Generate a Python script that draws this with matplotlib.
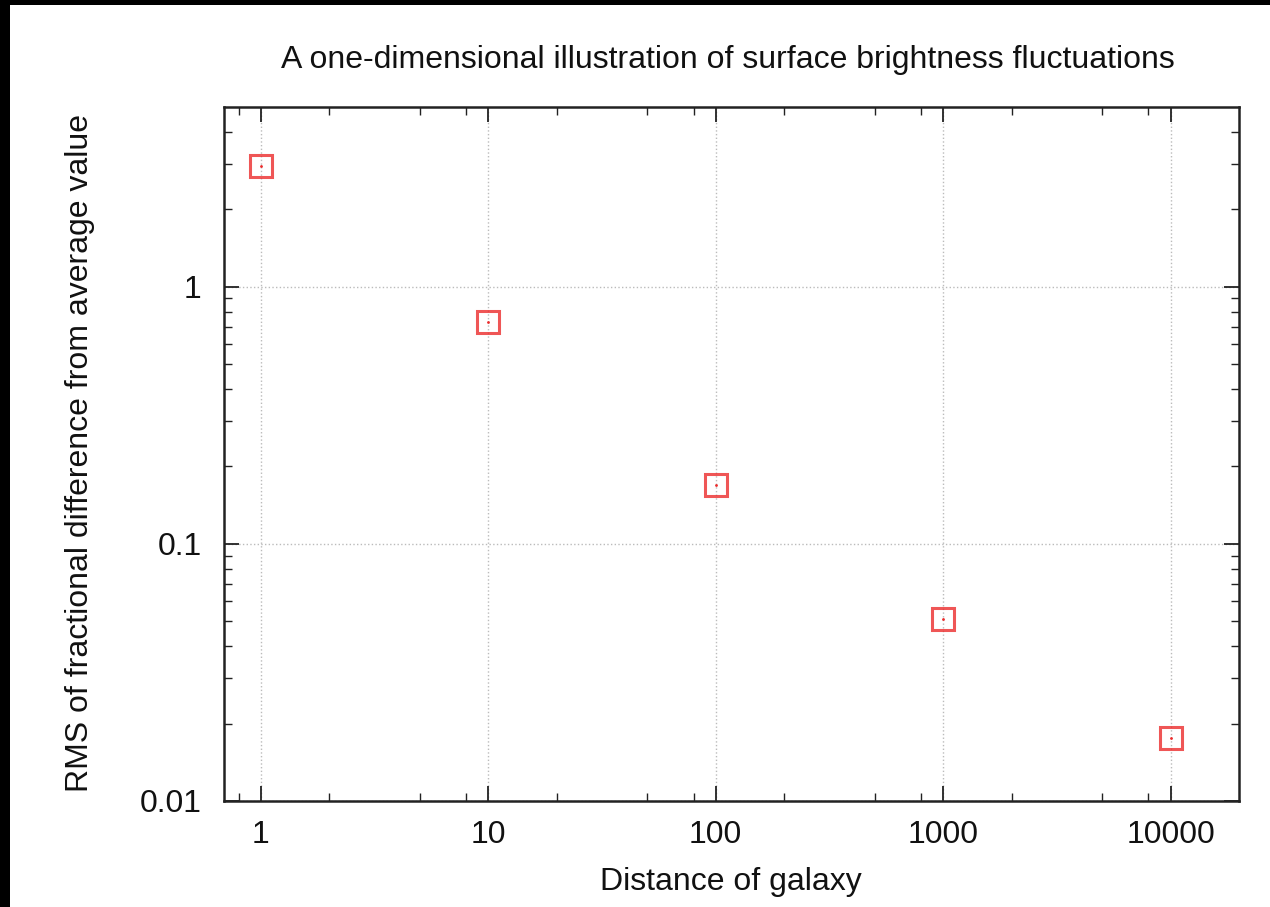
import matplotlib
matplotlib.use("Agg")
import matplotlib.pyplot as plt
import numpy as np
from matplotlib.patches import Rectangle

# data
distance = [1, 10, 100, 1000, 10000]
rms = [2.95, 0.73, 0.17, 0.051, 0.0176]

xticks = [1, 10, 100, 1000, 10000]
xticklabels = ["1", "10", "100", "1000", "10000"]
yticks = [0.01, 0.1, 1]
yticklabels = ["0.01", "0.1", "1"]

plt.rcParams['font.family'] = ['Liberation Sans', 'DejaVu Sans']
plt.rcParams['font.size'] = 23

fig = plt.figure(figsize=(12.7, 9.07), dpi=100, facecolor='black')
# white page with the dark frame on left/top
fig.patches.append(Rectangle((10 / 1270, 0), 1, 1 - 5 / 907, transform=fig.transFigure,
                             facecolor='white', edgecolor='none', zorder=-10))

ax = fig.add_axes([224 / 1270, 1 - 801 / 907, (1239 - 224) / 1270, (801 - 107) / 907])
ax.set_facecolor('white')

red = '#ec2c2c'
ax.plot(distance, rms, linestyle='none', marker='s', markersize=16, markerfacecolor='none',
        markeredgecolor=red, markeredgewidth=2.2, alpha=0.8, zorder=3)
ax.plot(distance, rms, linestyle='none', marker='.', markersize=2, color=red, zorder=3)

ax.set_xscale('log')
ax.set_yscale('log')
ax.set_xlim(0.69, 20000)
ax.set_ylim(0.01, 5)

ax.set_xticks(xticks)
ax.set_xticklabels(xticklabels)
ax.set_yticks(yticks)
ax.set_yticklabels(yticklabels)

xminor = [m * 10 ** e for e in range(-1, 5) for m in (2, 5, 8)]
xminor = [v for v in xminor if 0.7 < v < 20000]
ax.set_xticks(xminor, minor=True)
yminor = [m * 10 ** e for e in range(-2, 1) for m in range(2, 10)]
yminor = [v for v in yminor if v < 5]
ax.set_yticks(yminor, minor=True)
ax.tick_params(which='minor', labelbottom=False, labelleft=False)

ax.tick_params(which='both', direction='in', top=True, right=True, colors='#222222')
ax.tick_params(which='major', length=11, width=1.3, labelcolor='#111111')
ax.tick_params(axis='x', which='major', pad=14)
ax.tick_params(axis='y', which='major', pad=16)
ax.tick_params(which='minor', length=6, width=1.0)

for s in ax.spines.values():
    s.set_linewidth(1.8)
    s.set_color('#222222')

ax.grid(True, which='major', linestyle=':', color='#bbbbbb', linewidth=1.0)

fig.text(728 / 1270, 1 - 60 / 907, "A one-dimensional illustration of surface brightness fluctuations",
         ha='center', va='center', color='#111111')
fig.text(731 / 1270, 1 - 882 / 907, "Distance of galaxy", ha='center', va='center', color='#111111')
fig.text(80 / 1270, 1 - 453 / 907, "RMS of fractional difference from average value",
         ha='center', va='center', rotation=90, color='#111111')

fig.savefig("out.png", dpi=100, facecolor=fig.get_facecolor())
